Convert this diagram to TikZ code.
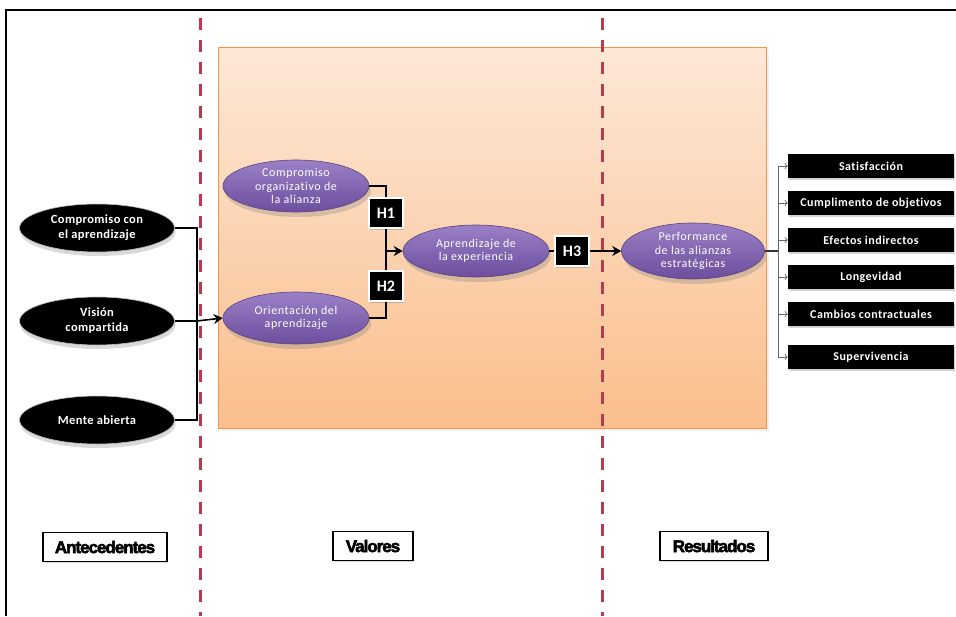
\documentclass[tikz,border=0pt]{standalone}
\usepackage{fontspec}
\setmainfont{Carlito}[Ligatures=NoCommon]
\newfontfamily\lblfont{Liberation Sans}[FakeBold=3,LetterSpace=-6]
\usetikzlibrary{shapes.geometric,shadows,arrows.meta}
\definecolor{dashred}{RGB}{180,60,78}
\definecolor{ptop}{RGB}{155,128,198}
\definecolor{pbot}{RGB}{108,78,158}
\definecolor{pborder}{RGB}{90,68,125}
\definecolor{otop}{RGB}{253,232,215}
\definecolor{obot}{RGB}{250,190,140}
\definecolor{oborder}{RGB}{247,150,70}
\begin{document}
\begin{tikzpicture}[x=1pt,y=-1pt,
  blackell/.style={ellipse, fill=black, draw=gray!50, line width=0.6pt,
    minimum width=155pt, minimum height=48pt, inner sep=0pt, text=white,
    font=\fontsize{12.5}{15}\selectfont\bfseries\addfontfeature{LetterSpace=3},
    align=center, drop shadow={shadow xshift=1pt,shadow yshift=-4pt,opacity=0.3}},
  purpell/.style={ellipse, top color=ptop, bottom color=pbot, draw=pborder,
    line width=0.6pt, minimum width=146pt, minimum height=52pt, inner sep=0pt,
    text=white, font=\fontsize{12}{13.5}\selectfont\addfontfeature{LetterSpace=5},
    align=center, drop shadow={shadow xshift=2pt,shadow yshift=-5pt,opacity=0.3}},
  hbox/.style={fill=black, draw=white, line width=1.5pt, minimum width=34pt,
    minimum height=30pt, inner sep=0pt, text=white,
    font=\fontsize{16}{16}\selectfont\bfseries,
    drop shadow={shadow xshift=1pt,shadow yshift=-2pt,opacity=0.4}},
  outbox/.style={fill=black, minimum width=166pt, minimum height=24pt, inner sep=0pt,
    text=white, font=\fontsize{12}{13}\selectfont\bfseries\addfontfeature{LetterSpace=4},
    drop shadow={shadow xshift=1pt,shadow yshift=-2pt,opacity=0.35}},
  lblbox/.style={fill=white, draw=black, line width=1.5pt, inner sep=0pt,
    minimum height=29pt, font=\lblfont\fontsize{17}{17}\selectfont\bfseries,
    drop shadow={shadow xshift=1pt,shadow yshift=-1pt,opacity=0.3}},
  conn/.style={draw=black, line width=1.6pt},
  arr/.style={conn, -{Stealth[length=9pt,width=10pt]}},
  gline/.style={draw=gray!80!black, line width=0.7pt},
  garr/.style={gline, -{To[length=3pt,width=6pt]}},
  redline/.style={draw=dashred, line width=3pt, dash pattern=on 12pt off 10pt}
]
\useasboundingbox (0,0) rectangle (956,616);
% frame
\draw[line width=1.5pt] (6,616) -- (6,10) -- (960,10);
% orange panel
\path[top color=otop, bottom color=obot, draw=oborder, line width=0.8pt,
  drop shadow={shadow xshift=3pt,shadow yshift=-3pt,opacity=0.12}]
  (218,47) rectangle (766,428);
% dashed separators
\draw[redline] (200,18) -- (200,616);
\draw[redline] (602,18) -- (602,616);

% antecedentes
\node[blackell] (ca) at (97,228) {Compromiso con\\el aprendizaje};
\node[blackell] (vc) at (97,321) {Visión\\compartida};
\node[blackell] (ma) at (97,420) {Mente abierta};

% values
\node[purpell] (co) at (296,186) {Compromiso\\organizativo de\\la alianza};
\node[purpell] (oa) at (296,318) {Orientación del\\aprendizaje};
\node[purpell] (ae) at (476,251) {Aprendizaje de\\la experiencia};
\node[purpell, minimum width=143pt, minimum height=56pt] (pe) at (693,251) {Performance\\de las alianzas\\estratégicas};

\coordinate (jl) at (197,321);
\draw[conn] (ca.east) -- (ca.east -| jl) -- (ma.east -| jl) -- (ma.east);
\draw[conn] (vc.east) -- (jl);
\draw[arr] (jl) -- (oa.west);

\node[hbox] (h1) at (386,213) {H1};
\node[hbox] (h2) at (386,286) {H2};
\node[hbox] (h3) at (572,251) {H3};

\draw[conn] (co.east) -| (h1.north);
\draw[conn] (h1.south) -- (h2.north);
\draw[conn] (oa.east) -| (h2.south);
\draw[arr] (h1.south |- ae.west) -- (ae.west);
\draw[conn] (ae.east) -- (h3.west);
\draw[arr] (h3.east) -- (pe.west);

% results
\node[outbox] (o1) at (871,166) {Satisfacción};
\node[outbox] (o2) at (871,203) {Cumplimento de objetivos};
\node[outbox] (o3) at (871,240) {Efectos indirectos};
\node[outbox] (o4) at (871,277) {Longevidad};
\node[outbox] (o5) at (871,314) {Cambios contractuales};
\node[outbox] (o6) at (871,357) {Supervivencia};

\coordinate (jr) at (778,251);
\draw[line width=1.2pt, draw=black!80] (pe.east) -- (jr);
\draw[gline] (jr |- o1.west) -- (jr |- o6.west);
\foreach \n in {o1,o2,o3,o4,o5,o6}
  \draw[garr] (jr |- \n.west) -- (\n.west);

% bottom labels
\node[lblbox, minimum width=124pt] (lab1) at (105,547) {Antecedentes};
\node[lblbox, minimum width=80pt] (lab2) at (373,546) {Valores};
\node[lblbox, minimum width=108pt] (lab3) at (714,546) {Resultados};
\end{tikzpicture}
\end{document}
